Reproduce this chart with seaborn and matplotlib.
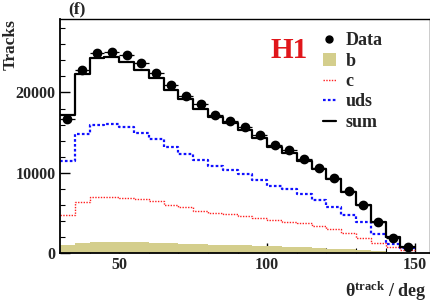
import numpy as np
import matplotlib
matplotlib.use("Agg")
import matplotlib.pyplot as plt
import seaborn as sns
from matplotlib.patches import Patch
from matplotlib.lines import Line2D

# ---- data ----
bin_edges = list(range(30, 155, 5))  # 30..150
bin_centers = [32.5 + 5 * i for i in range(24)]
data_vals = [16650, 22800, 24870, 25070, 24650, 23620, 22450, 20880, 19590, 18550,
             17250, 16480, 15690, 14650, 13450, 12770, 11670, 10580, 9300, 7720,
             5980, 3860, 1910, 750]
sum_vals = [17180, 22350, 24300, 24450, 23820, 22790, 21750, 20300, 19140, 17890,
            16880, 16150, 15320, 14280, 13240, 12490, 11470, 10520, 9190, 7640,
            5980, 3900, 2030, 790]
uds_vals = [11470, 14780, 15940, 16060, 15650, 14900, 14160, 13160, 12310, 11580,
            10870, 10340, 9840, 9090, 8380, 7970, 7330, 6600, 5690, 4730,
            3820, 2330, 1120, 590]
c_vals = [4730, 6390, 7010, 7010, 6890, 6720, 6480, 5980, 5730, 5270,
          5020, 4860, 4610, 4360, 4070, 3860, 3700, 3360, 2950, 2450,
          1910, 1280, 710, 370]
b_vals = [1000, 1280, 1370, 1410, 1400, 1350, 1300, 1250, 1150, 1100,
          1050, 1000, 950, 880, 820, 760, 700, 640, 560, 460,
          350, 220, 110, 40]
data_err = [130, 150, 160, 160, 160, 155, 150, 145, 140, 136,
            131, 128, 125, 121, 116, 113, 108, 103, 96, 88,
            77, 62, 44, 27]

sns.set_theme(style="white")
plt.rcParams['font.family'] = ['Liberation Serif', 'DejaVu Serif']
plt.rcParams['font.weight'] = 'bold'
plt.rcParams['mathtext.fontset'] = 'custom'
plt.rcParams['mathtext.rm'] = 'Liberation Serif:bold'
plt.rcParams['mathtext.it'] = 'Liberation Serif:bold'
plt.rcParams['mathtext.bf'] = 'Liberation Serif:bold'

fig = plt.figure(figsize=(4.31, 3.02), dpi=100)
ax = fig.add_axes([60 / 431, 49 / 302, 370 / 431, 234 / 302])

khaki = '#d4ce8c'
sns.histplot(x=bin_centers, weights=b_vals, bins=bin_edges, element='step',
             fill=True, color=khaki, alpha=1.0, linewidth=0, ax=ax)
sns.histplot(x=bin_centers, weights=c_vals, bins=bin_edges, element='step',
             fill=False, color='#ff2020', linewidth=1.0, linestyle=(0, (1, 1)), ax=ax)
sns.histplot(x=bin_centers, weights=uds_vals, bins=bin_edges, element='step',
             fill=False, color='#1010ff', linewidth=1.6, linestyle=(0, (1.2, 1.0)), ax=ax)
sns.histplot(x=bin_centers, weights=sum_vals, bins=bin_edges, element='step',
             fill=False, color='black', linewidth=1.6, ax=ax)
ax.errorbar(bin_centers, data_vals, xerr=2.5, yerr=data_err, fmt='o', color='black',
            markersize=6, elinewidth=0.9, capsize=0, zorder=5)

ax.set_xlim(30, 155)
ax.set_ylim(0, 29150)
ax.set_xticks([50, 100, 150])
ax.set_xticks(np.arange(30, 155, 10), minor=True)
ax.set_yticks([0, 10000, 20000])
ax.set_yticks(np.arange(0, 29000, 2000), minor=True)
ax.tick_params(axis='both', which='major', direction='in', length=7, width=1.0,
               labelsize=11.5, pad=3, color='black', bottom=True, left=True)
ax.tick_params(axis='both', which='minor', direction='in', length=3.5, width=0.8,
               color='black', bottom=True, left=True)
for lab in ax.get_xticklabels() + ax.get_yticklabels():
    lab.set_fontweight('bold')
for s in ax.spines.values():
    s.set_color('black')
    s.set_linewidth(1.0)
ax.spines['left'].set_linewidth(1.3)
ax.spines['bottom'].set_linewidth(1.3)

ax.set_xlabel(r'$\mathrm{\theta^{track}}$ / deg', fontsize=13, fontweight='bold')
ax.xaxis.set_label_coords(0.99, -0.115)
ax.xaxis.label.set_horizontalalignment('right')
ax.set_ylabel('Tracks', fontsize=12.5, fontweight='bold')
ax.yaxis.set_label_coords(-0.155, 1.0)
ax.yaxis.label.set_verticalalignment('top')
ax.yaxis.label.set_horizontalalignment('right')
ax.yaxis.label.set_rotation_mode('anchor')

fig.text(68 / 431, 1 - 9 / 302, '(f)', fontsize=12.5, fontweight='bold', va='center', ha='left')
fig.text(271 / 431, 1 - 51 / 302, 'H1', fontsize=21, fontweight='bold', color='#e0161b',
         va='center', ha='left')

handles = [
    Line2D([], [], marker='o', color='black', linestyle='none', markersize=5),
    Patch(facecolor=khaki, edgecolor='none'),
    Line2D([], [], color='#ff2020', linewidth=1.0, linestyle=(0, (1, 1))),
    Line2D([], [], color='#1010ff', linewidth=1.6, linestyle=(0, (1.2, 1.0))),
    Line2D([], [], color='black', linewidth=1.6),
]
labels = ['Data', 'b', 'c', 'uds', 'sum']
leg = ax.legend(handles, labels, loc='upper left', bbox_to_anchor=(0.71, 0.944),
                frameon=False, fontsize=13, handlelength=0.75, handletextpad=0.5,
                labelspacing=0.19, borderaxespad=0, borderpad=0)
for t in leg.get_texts():
    t.set_fontweight('bold')

fig.savefig('out.png', dpi=100)
